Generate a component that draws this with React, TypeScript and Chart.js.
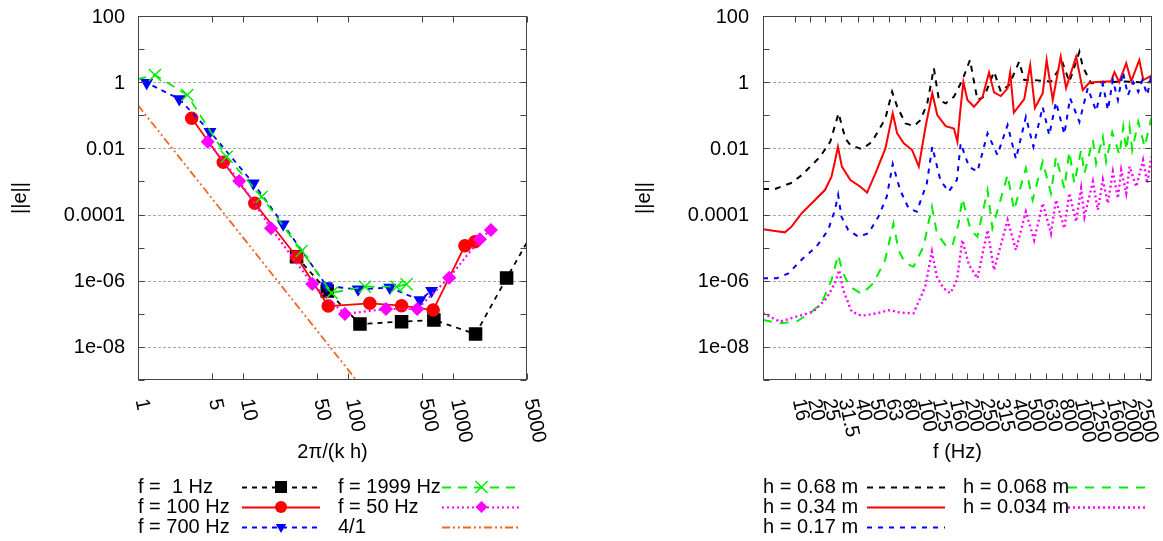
import { useEffect, useRef } from 'react';
import { Chart, registerables } from 'chart.js';
Chart.register(...registerables);

const FONT = "'Liberation Sans', Arial, Helvetica, sans-serif";

// ---------- shared y axis ----------
const yTickValues = [1e-9, 1e-8, 1e-7, 1e-6, 1e-5, 1e-4, 1e-3, 1e-2, 1e-1, 1, 10, 100];
const yTickLabels = ['', '1e-08', '', '1e-06', '', '0.0001', '', '0.01', '', '1', '', '100'];
const yGridValues = [1e-8, 1e-6, 1e-4, 1e-2, 1];

// ---------- left chart ----------
const leftXTickValues = [1, 5, 10, 50, 100, 500, 1000, 5000];
const leftXTickLabels = ['1', '5', '10', '50', '100', '500', '1000', '5000'];

const f1HzX = [32.2, 63, 129, 321, 651, 1622, 3199, 6400];
const f1HzY = [5.3e-6, 4.9e-7, 4.9e-8, 5.8e-8, 6.5e-8, 2.45e-8, 1.2e-6, 5.7e-5];
const f100HzX = [3.24, 6.47, 12.9, 32.2, 64.4, 160, 321, 641, 1283, 1597];
const f100HzY = [0.081, 3.8e-3, 2.19e-4, 5.3e-6, 1.72e-7, 2.08e-7, 1.76e-7, 1.3e-7, 1.14e-5, 1.51e-5];
const f700HzX = [0.6, 1.21, 2.47, 4.84, 12.5, 24, 62.2, 124, 248, 480, 619];
const f700HzY = [1.9, 0.96, 0.31, 0.0318, 8.8e-4, 5.1e-5, 6.9e-7, 5.5e-7, 6.2e-7, 2.6e-7, 5.0e-7];
const f1999HzX = [0.7, 1.45, 2.94, 6.97, 15, 36, 69.4, 144, 288, 358];
const f1999HzY = [0.96, 1.65, 0.41, 5.6e-3, 3.46e-4, 7.9e-6, 4.3e-7, 6.6e-7, 6.6e-7, 7.8e-7];
const f50HzX = [4.6, 9.18, 18.4, 45.4, 92.8, 228, 452, 910, 1782, 2268];
const f50HzY = [0.0159, 1.03e-3, 3.84e-5, 8.0e-7, 9.9e-8, 1.4e-7, 1.4e-7, 1.23e-6, 1.79e-5, 3.4e-5];
const slopeX = [1, 200];
const slopeY = [0.2, 1.25e-10];

// ---------- right chart ----------
const rightXTickValues = [16, 20, 25, 31.5, 40, 50, 63, 80, 100, 125, 160, 200, 250, 315, 400, 500, 630, 800, 1000, 1250, 1600, 2000, 2500];
const rightXTickLabels = ['16', '20', '25', '31.5', '40', '50', '63', '80', '100', '125', '160', '200', '250', '315', '400', '500', '630', '800', '1000', '1250', '1600', '2000', '2500'];

const h068F = [10, 11.9, 15.3, 17.7, 21.0, 23.1, 26.8, 30.3, 33.4, 36.0, 42.7, 49.5, 60.2, 66.4, 71.5, 80.8, 91.3, 100.7, 111.2, 122.5, 131.9, 145.6, 164.4, 186.1, 208, 232, 256, 296, 327, 369, 428, 461, 533, 682, 811, 893, 1035, 1087, 1228, 1500, 2000, 2500, 3000];
const h068E = [5.9e-4, 5.9e-4, 9.2e-4, 1.57e-3, 3.54e-3, 5.6e-3, 0.0159, 0.115, 0.0201, 0.0126, 9.4e-3, 0.0159, 0.081, 0.515, 0.182, 0.057, 0.047, 0.072, 0.23, 2.63, 0.29, 0.23, 0.364, 1.16, 4.68, 0.29, 0.364, 2.07, 0.515, 0.82, 4.16, 1.16, 1.16, 1.03, 3.72, 1.03, 8.3, 2.94, 0.925, 1.0, 1.05, 1.0, 1.0];

const h034F = [10, 11.9, 13.8, 15.2, 17.6, 20.9, 24.8, 27.3, 28.8, 30.0, 31.8, 36.0, 41.7, 46.0, 52.0, 60.2, 67.0, 71.5, 78.8, 89.1, 98.2, 108.4, 119.7, 128.8, 145.6, 164.4, 172.9, 181.5, 188.8, 200.3, 220.7, 250, 275, 296, 327, 361, 375, 396, 461, 503, 539, 604, 640, 700, 787, 851, 986, 1087, 1199, 1422, 1648, 1730, 1854, 2056, 2213, 2490, 2640, 3000];
const h034E = [3.58e-5, 3.18e-5, 2.9e-5, 4.3e-5, 1.09e-4, 2.44e-4, 5.5e-4, 1.39e-3, 4.4e-3, 0.0112, 2.8e-3, 1.11e-3, 6.9e-4, 4.6e-4, 1.76e-3, 0.01, 0.115, 0.0285, 0.0142, 8.9e-3, 2.8e-3, 0.045, 0.46, 0.102, 0.047, 0.04, 0.0159, 0.182, 1.01, 0.29, 0.182, 0.357, 1.96, 0.49, 0.38, 0.65, 1.96, 0.121, 0.31, 3.3, 0.166, 0.46, 4.68, 0.29, 5.9, 0.667, 5.9, 0.58, 0.98, 1.03, 1.07, 2.03, 1.0, 3.72, 1.07, 4.68, 1.16, 1.6];

const h017F = [10, 12.2, 14.5, 18.0, 21.9, 26.0, 28.7, 30.1, 31.6, 34.9, 40.5, 46.9, 54.3, 61.4, 67.0, 74.7, 84.5, 95.4, 110.5, 119.7, 134.6, 152, 171.8, 181.5, 205, 232, 269, 311, 361, 408, 472, 527, 604, 665, 734, 830, 902, 1035, 1170, 1322, 1459, 1571, 1690, 1820, 1959, 2108, 2279, 2454, 2603, 2800, 2970];
const h017E = [1.18e-6, 1.18e-6, 1.67e-6, 4.76e-6, 1.07e-5, 3.4e-5, 1.37e-4, 3.9e-4, 8.6e-5, 3.4e-5, 2.14e-5, 2.7e-5, 8.6e-5, 3.46e-4, 3.37e-3, 5.5e-4, 1.55e-4, 1.22e-4, 8.8e-4, 0.0112, 1.11e-3, 4.9e-4, 1.11e-3, 0.0142, 2.8e-3, 1.97e-3, 0.0285, 6.3e-3, 0.051, 4.8e-3, 0.089, 0.0112, 0.178, 0.025, 0.25, 0.027, 0.33, 0.063, 0.667, 0.135, 0.88, 0.144, 1.16, 0.29, 2.03, 0.41, 1.0, 0.51, 1.16, 0.41, 1.65];

const h0068F = [10, 12.8, 16.3, 19.9, 23.6, 27.3, 30.1, 32.4, 35.8, 42.5, 50.5, 59.9, 67.7, 72.9, 80.4, 90.9, 105.2, 119, 128, 145, 160, 176, 186, 210, 232, 269, 289, 361, 397, 472, 521, 604, 682, 734, 830, 893, 961, 1061, 1114, 1260, 1322, 1459, 1532, 1674, 1863, 1968, 2056, 2160, 2245, 2454, 2692, 2970];
const h0068E = [6.5e-8, 5.2e-8, 5.8e-8, 1.04e-7, 2.08e-7, 1.05e-6, 5.98e-6, 1.67e-6, 6.6e-7, 3.97e-7, 8.4e-7, 4.2e-6, 5.4e-5, 8.5e-6, 3.36e-6, 2.65e-6, 1.07e-5, 1.73e-4, 2.7e-5, 1.2e-5, 1.07e-5, 5.4e-5, 3.1e-4, 3.4e-5, 2.14e-5, 5.5e-4, 3.84e-5, 1.57e-3, 1.37e-4, 2.5e-3, 2.75e-4, 3.95e-3, 4.4e-4, 5.6e-3, 6.2e-4, 7.9e-3, 8.8e-4, 8.9e-3, 1.76e-3, 0.0179, 3.5e-3, 0.0225, 4.0e-3, 0.031, 6.3e-3, 0.045, 8.9e-3, 0.045, 8.9e-3, 0.064, 0.0112, 0.081];

const h0034F = [10, 12.8, 16.3, 20.9, 25.4, 28.7, 30.6, 32.4, 36.7, 42.5, 50.5, 64.5, 74.7, 90.9, 108, 119, 128, 141, 156, 171.8, 186, 205, 232, 269, 296, 361, 408, 472, 533, 604, 682, 734, 830, 893, 986, 1061, 1114, 1260, 1356, 1459, 1571, 1690, 1820, 1910, 2056, 2160, 2382, 2630, 2800, 2970];
const h0034E = [1.04e-7, 5.8e-8, 8.2e-8, 1.16e-7, 2.94e-7, 8.4e-7, 2.1e-6, 5.25e-7, 1.16e-7, 8.8e-8, 9.9e-8, 1.3e-7, 1.08e-7, 1.04e-7, 6.6e-7, 7.5e-6, 1.32e-6, 5.9e-7, 4.2e-7, 1.05e-6, 1.7e-5, 3.0e-6, 1.18e-6, 3.4e-5, 2.1e-6, 6.8e-5, 8.5e-6, 1.22e-4, 1.7e-5, 2.19e-4, 2.7e-5, 2.75e-4, 3.84e-5, 4.4e-4, 6.1e-5, 6.2e-4, 8.6e-5, 9.8e-4, 1.37e-4, 1.11e-3, 2.19e-4, 1.97e-3, 3.1e-4, 2.2e-3, 4.4e-4, 2.8e-3, 6.9e-4, 4.4e-3, 8.8e-4, 5.6e-3];

const pts = (xs: number[], ys: number[]) => xs.map((x, i) => ({ x, y: ys[i] }));

function drawMarker(ctx: CanvasRenderingContext2D, style: string, x: number, y: number, r: number, color: string, rot: number) {
  ctx.save();
  ctx.setLineDash([]);
  ctx.fillStyle = color;
  ctx.strokeStyle = color;
  ctx.lineWidth = 1.5;
  ctx.beginPath();
  let rad = (rot || 0) * Math.PI / 180;
  if (style === 'rect') {
    const s = r * Math.SQRT1_2;
    ctx.rect(x - s, y - s, 2 * s, 2 * s);
    ctx.fill();
  } else if (style === 'circle') {
    ctx.arc(x, y, r, 0, Math.PI * 2);
    ctx.fill();
  } else if (style === 'triangle') {
    for (let k = 0; k < 3; k++) {
      const px = x + Math.sin(rad) * r, py = y - Math.cos(rad) * r;
      if (k === 0) ctx.moveTo(px, py); else ctx.lineTo(px, py);
      rad += 2 * Math.PI / 3;
    }
    ctx.closePath();
    ctx.fill();
  } else if (style === 'rectRot') {
    ctx.moveTo(x - r, y); ctx.lineTo(x, y - r); ctx.lineTo(x + r, y); ctx.lineTo(x, y + r);
    ctx.closePath();
    ctx.fill();
  } else if (style === 'crossRot') {
    const o = r * Math.SQRT1_2;
    ctx.moveTo(x - o, y - o); ctx.lineTo(x + o, y + o);
    ctx.moveTo(x + o, y - o); ctx.lineTo(x - o, y + o);
    ctx.stroke();
  }
  ctx.restore();
}

type DecorCfg = {
  xTickValues: number[];
  xTickLabels: string[];
  xTitle: string;
  yTitleX: number;
  yLabelGap: number;
  legendTextX: number[];
  legendLineX: number[][];
  legendRowY: number[];
};

function decorPlugin(cfg: DecorCfg) {
  return {
    id: 'decor',
    beforeDatasetsDraw(chart: any) {
      const { ctx, chartArea: a, scales } = chart;
      ctx.save();
      ctx.strokeStyle = '#a8a8a8';
      ctx.lineWidth = 1;
      ctx.setLineDash([3, 2]);
      for (const v of yGridValues) {
        const y = Math.round(scales.y.getPixelForValue(v)) + 0.5;
        ctx.beginPath(); ctx.moveTo(a.left, y); ctx.lineTo(a.right, y); ctx.stroke();
      }
      ctx.restore();
    },
    afterDraw(chart: any) {
      const { ctx, chartArea: a, scales } = chart;
      ctx.save();
      // frame
      ctx.strokeStyle = '#444';
      ctx.lineWidth = 1;
      ctx.setLineDash([]);
      const L = Math.round(a.left) + 0.5, R = Math.round(a.right) - 0.5;
      const T = Math.round(a.top) + 0.5, B = Math.round(a.bottom) - 0.5;
      ctx.strokeRect(L, T, R - L, B - T);
      // ticks
      ctx.beginPath();
      for (const v of yTickValues) {
        const y = Math.round(scales.y.getPixelForValue(v)) + 0.5;
        ctx.moveTo(L, y); ctx.lineTo(L + 6, y);
        ctx.moveTo(R, y); ctx.lineTo(R - 6, y);
      }
      for (const v of cfg.xTickValues) {
        const x = Math.round(scales.x.getPixelForValue(v)) + 0.5;
        ctx.moveTo(x, B); ctx.lineTo(x, B - 6);
        ctx.moveTo(x, T); ctx.lineTo(x, T + 6);
      }
      ctx.stroke();
      ctx.fillStyle = '#000';
      ctx.font = `20px ${FONT}`;
      // y tick labels
      ctx.textAlign = 'right';
      ctx.textBaseline = 'middle';
      yTickValues.forEach((v, i) => {
        if (!yTickLabels[i]) return;
        ctx.fillText(yTickLabels[i], a.left - cfg.yLabelGap, scales.y.getPixelForValue(v) + 1);
      });
      // x tick labels (rotated clockwise)
      ctx.textAlign = 'left';
      cfg.xTickValues.forEach((v, i) => {
        const x = scales.x.getPixelForValue(v);
        ctx.save();
        ctx.translate(x + 3, a.bottom + 19);
        ctx.rotate(78 * Math.PI / 180);
        ctx.fillText(cfg.xTickLabels[i], 0, 0);
        ctx.restore();
      });
      // axis titles
      ctx.textAlign = 'center';
      ctx.fillText(cfg.xTitle, (a.left + a.right) / 2, 452);
      ctx.save();
      ctx.translate(cfg.yTitleX, (a.top + a.bottom) / 2);
      ctx.rotate(-Math.PI / 2);
      ctx.fillText('||e||', 0, 0);
      ctx.restore();
      // legend
      chart.data.datasets.forEach((ds: any, i: number) => {
        const col = Math.floor(i / 3), row = i % 3;
        const y = cfg.legendRowY[row];
        ctx.textAlign = 'left';
        ctx.fillStyle = '#000';
        ctx.fillText(ds.label, cfg.legendTextX[col], y);
        const [x0, x1] = cfg.legendLineX[col];
        ctx.save();
        ctx.strokeStyle = ds.borderColor;
        ctx.lineWidth = ds.borderWidth;
        ctx.setLineDash(ds.borderDash || []);
        ctx.beginPath(); ctx.moveTo(x0, y + 0.5); ctx.lineTo(x1, y + 0.5); ctx.stroke();
        ctx.restore();
        if (ds.pointRadius > 0) {
          drawMarker(ctx, ds.pointStyle, (x0 + x1) / 2, y, ds.pointRadius, ds.borderColor, ds.pointRotation || 0);
        }
      });
      ctx.restore();
    },
  };
}

const yAxis = { type: 'logarithmic', min: 1e-9, max: 100, display: false };

function leftConfig(): any {
  const mk = (label: string, xs: number[], ys: number[], color: string, dash: number[], style: string, r: number, extra: any = {}) => ({
    label, data: pts(xs, ys), borderColor: color, backgroundColor: color, pointBackgroundColor: color,
    borderDash: dash, borderWidth: 1.8, pointStyle: style, pointRadius: r, pointBorderWidth: 1.5, ...extra,
  });
  const datasets = [
    mk('f =  1 Hz', f1HzX, f1HzY, '#000000', [5, 5], 'rect', 8.5),
    mk('f = 100 Hz', f100HzX, f100HzY, '#ff0000', [], 'circle', 6),
    mk('f = 700 Hz', f700HzX, f700HzY, '#0000ff', [5, 5], 'triangle', 6, { pointRotation: 180 }),
    mk('f = 1999 Hz', f1999HzX, f1999HzY, '#00ee00', [9, 7], 'crossRot', 8.5),
    mk('f = 50 Hz', f50HzX, f50HzY, '#ff00ff', [2, 3], 'rectRot', 6, { borderWidth: 2.2 }),
    mk('4/1', slopeX, slopeY, '#f26522', [8, 3, 2, 3, 2, 3], 'circle', 0),
  ].map((d, i, arr) => ({ ...d, order: arr.length - i }));
  return {
    type: 'line',
    data: { datasets },
    options: {
      animation: false, responsive: false, maintainAspectRatio: false, devicePixelRatio: 1,
      layout: { padding: { left: 138, right: 54, top: 16, bottom: 161 } },
      plugins: { legend: { display: false }, tooltip: { enabled: false } },
      elements: { line: { tension: 0 } },
      scales: {
        x: { type: 'logarithmic', min: 1, max: 5000, display: false },
        y: yAxis,
      },
    },
    plugins: [decorPlugin({
      xTickValues: leftXTickValues, xTickLabels: leftXTickLabels, xTitle: '2π/(k h)', yTitleX: 20, yLabelGap: 13,
      legendTextX: [138, 338], legendLineX: [[242, 320], [442, 521]], legendRowY: [487, 507, 527],
    })],
  };
}

function rightConfig(): any {
  const mk = (label: string, xs: number[], ys: number[], color: string, dash: number[], w: number) => ({
    label, data: pts(xs, ys), borderColor: color, backgroundColor: color,
    borderDash: dash, borderWidth: w, pointRadius: 0, pointStyle: 'circle',
  });
  const datasets = [
    mk('h = 0.68 m', h068F, h068E, '#000000', [6, 6], 2),
    mk('h = 0.34 m', h034F, h034E, '#ff0000', [], 2),
    mk('h = 0.17 m', h017F, h017E, '#0000ff', [5, 6], 2),
    mk('h = 0.068 m', h0068F, h0068E, '#00ee00', [9, 8], 2),
    mk('h = 0.034 m', h0034F, h0034E, '#ff00ff', [2, 3], 2.4),
  ].map((d, i, arr) => ({ ...d, order: arr.length - i }));
  return {
    type: 'line',
    data: { datasets },
    options: {
      animation: false, responsive: false, maintainAspectRatio: false, devicePixelRatio: 1,
      layout: { padding: { left: 182, right: 11, top: 16, bottom: 161 } },
      plugins: { legend: { display: false }, tooltip: { enabled: false } },
      elements: { line: { tension: 0 } },
      scales: {
        x: { type: 'logarithmic', min: 10, max: 3000, display: false },
        y: yAxis,
      },
    },
    plugins: [decorPlugin({
      xTickValues: rightXTickValues, xTickLabels: rightXTickLabels, xTitle: 'f (Hz)', yTitleX: 63, yLabelGap: 14,
      legendTextX: [182, 382], legendLineX: [[286, 364], [487, 564]], legendRowY: [487, 507, 527],
    })],
  };
}

function Plot({ make, left, width }: { make: () => any; left: number; width: number }) {
  const ref = useRef<HTMLCanvasElement>(null);
  useEffect(() => {
    const chart = new Chart(ref.current as HTMLCanvasElement, make());
    return () => chart.destroy();
  }, []);
  return (
    <canvas
      ref={ref}
      width={width}
      height={541}
      style={{ position: 'absolute', left, top: 0, width, height: 541, display: 'block' }}
    />
  );
}

export default function App() {
  Chart.defaults.font.family = FONT;
  return (
    <div style={{ position: 'absolute', left: 0, top: 0, width: 1163, height: 541, background: '#fff', overflow: 'hidden' }}>
      <Plot make={leftConfig} left={0} width={581} />
      <Plot make={rightConfig} left={581} width={582} />
    </div>
  );
}
